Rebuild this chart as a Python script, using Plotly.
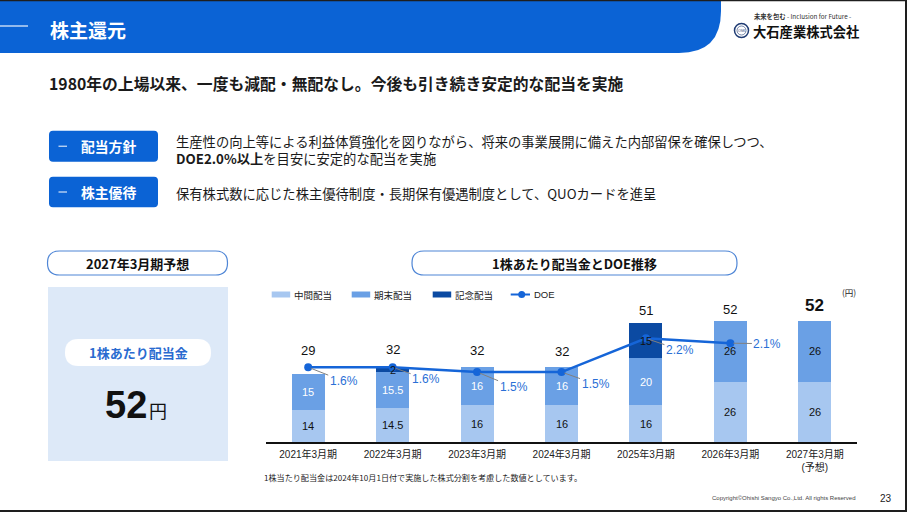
import plotly.graph_objects as go

W, H = 907, 512


def X(px):
    return px / W


def Y(py):
    return 1 - py / H


# ---------------- data ----------------
categories = ["2021年3月期", "2022年3月期", "2023年3月期", "2024年3月期",
              "2025年3月期", "2026年3月期", "2027年3月期<br>(予想)"]
interim = [14, 14.5, 16, 16, 16, 26, 26]          # 中間配当
year_end = [15, 15.5, 16, 16, 20, 26, 26]         # 期末配当
commemorative = [0, 2, 0, 0, 15, 0, 0]            # 記念配当
doe = [1.6, 1.6, 1.5, 1.5, 2.2, 2.1, None]        # DOE (%)
series_names = ["中間配当", "期末配当", "記念配当", "DOE"]
forecast_value = 52

# ---------------- style ----------------
C_LIGHT = "#a7c7f0"
C_MED = "#6aa0e5"
C_DARK = "#0b4aa2"
C_LINE = "#1565d8"
C_BLUE = "#0b63d5"
JP = "Noto Sans CJK JP"
NUM = "Liberation Sans, Noto Sans CJK JP"

totals = [a + b + c for a, b, c in zip(interim, year_end, commemorative)]

fig = go.Figure()
fig.add_trace(go.Bar(x=categories, y=interim, name=series_names[0], marker_color=C_LIGHT,
                     marker_line_width=0, width=0.39, showlegend=False, hoverinfo="skip"))
fig.add_trace(go.Bar(x=categories, y=year_end, name=series_names[1], marker_color=C_MED,
                     marker_line_width=0, width=0.39, showlegend=False, hoverinfo="skip"))
fig.add_trace(go.Bar(x=categories, y=commemorative, name=series_names[2], marker_color=C_DARK,
                     marker_line_width=0, width=0.39, showlegend=False, hoverinfo="skip"))
fig.add_trace(go.Scatter(x=categories, y=doe, name=series_names[3], yaxis="y2",
                         mode="lines+markers", line=dict(color=C_LINE, width=2.5),
                         marker=dict(size=8, color=C_LINE), showlegend=False,
                         hoverinfo="skip", cliponaxis=False))

annotations = []
shapes = []

# segment labels
ye_colors = ["white", "white", "white", "white", "white", "#111", "#111"]
for i, cat in enumerate(categories):
    annotations.append(dict(x=cat, y=interim[i] / 2, xref="x", yref="y", text=f"{interim[i]:g}",
                            showarrow=False, font=dict(family=NUM, size=11, color="#111")))
    annotations.append(dict(x=cat, y=interim[i] + year_end[i] / 2, xref="x", yref="y",
                            text=f"{year_end[i]:g}", showarrow=False,
                            font=dict(family=NUM, size=11, color=ye_colors[i])))
    if commemorative[i]:
        annotations.append(dict(x=cat, y=interim[i] + year_end[i] + commemorative[i] / 2,
                                xref="x", yref="y", text=f"{commemorative[i]:g}", showarrow=False,
                                font=dict(family=NUM, size=11, color="#111")))

# totals
tot_shift = [23.5, 18, 16.5, 16, 12.5, 11.5, 15.5]
for i, cat in enumerate(categories):
    last = i == len(categories) - 1
    annotations.append(dict(x=cat, y=totals[i], xref="x", yref="y", yanchor="middle",
                            yshift=tot_shift[i], showarrow=False,
                            text=(f"<b>{totals[i]:g}</b>" if last else f"{totals[i]:g}"),
                            font=dict(family=NUM, size=17 if last else 13, color="#111")))

# DOE labels
doe_off = [(35.5, 14), (33.5, 12), (36.5, 15), (34, 12), (34, 11.5), (37, 0.5)]
for i, cat in enumerate(categories):
    if doe[i] is None:
        continue
    ax, ay = doe_off[i]
    annotations.append(dict(x=cat, y=doe[i], xref="x", yref="y2", text=f"{doe[i]}%",
                            showarrow=True, arrowhead=0, arrowwidth=1, arrowcolor="#808080",
                            ax=ax, ay=ay, standoff=3,
                            font=dict(family=NUM, size=12, color="#2a6fd6")))


def rrect(x0, y0, x1, y1, r):
    def p(x, y):
        return f"{X(x):.5f},{Y(y):.5f}"
    return (f"M{p(x0 + r, y0)} L{p(x1 - r, y0)} Q{p(x1, y0)} {p(x1, y0 + r)} "
            f"L{p(x1, y1 - r)} Q{p(x1, y1)} {p(x1 - r, y1)} L{p(x0 + r, y1)} "
            f"Q{p(x0, y1)} {p(x0, y1 - r)} L{p(x0, y0 + r)} Q{p(x0, y0)} {p(x0 + r, y0)} Z")


def text(x, y, s, size, color="#1a1a1a", family=JP, xanchor="left", yanchor="middle"):
    annotations.append(dict(x=X(x), y=Y(y), xref="paper", yref="paper", text=s,
                            showarrow=False, xanchor=xanchor, yanchor=yanchor, align="left",
                            font=dict(family=family, size=size, color=color)))


# header bar
hb = (f"M{X(0):.5f},{Y(0):.5f} L{X(721):.5f},{Y(0):.5f} L{X(721):.5f},{Y(11):.5f} "
      f"Q{X(721):.5f},{Y(53):.5f} {X(679):.5f},{Y(53):.5f} L{X(0):.5f},{Y(53):.5f} Z")
shapes.append(dict(type="path", path=hb, xref="paper", yref="paper", fillcolor=C_BLUE,
                   line=dict(width=0), layer="below"))
shapes.append(dict(type="line", xref="paper", yref="paper", x0=X(0), x1=X(28), y0=Y(26), y1=Y(26),
                   line=dict(color="rgba(255,255,255,0.75)", width=1.5)))
text(48, 29, "<b>株主還元</b>", 19, "white")

# logo
shapes.append(dict(type="circle", xref="paper", yref="paper", x0=X(734.5), x1=X(748.5),
                   y0=Y(37.5), y1=Y(23.5), line=dict(color="#1f3b73", width=1.5)))
shapes.append(dict(type="circle", xref="paper", yref="paper", x0=X(737), x1=X(746),
                   y0=Y(35), y1=Y(26), line=dict(color="#1f3b73", width=0.6)))
text(741.5, 30.7, "OSK", 3.5, "#1f3b73", NUM, xanchor="center")
text(752, 16.7, "<b>未来を包む</b> - Inclusion for Future -", 6.3, "#333")
text(751, 31.5, "<b>大石産業株式会社</b>", 13.3, "#111")

# subtitle
text(47, 83, "<b>1980年の上場以来、一度も減配・無配なし。今後も引き続き安定的な配当を実施</b>", 15.8)

# policy boxes
for (yy0, yy1, label) in [(130.7, 161.7, "配当方針"), (176.7, 207.3, "株主優待")]:
    shapes.append(dict(type="path", path=rrect(49, yy0, 158, yy1, 4), xref="paper", yref="paper",
                       fillcolor=C_BLUE, line=dict(width=0)))
    cy = (yy0 + yy1) / 2
    shapes.append(dict(type="line", xref="paper", yref="paper", x0=X(58.5), x1=X(67),
                       y0=Y(cy), y1=Y(cy), line=dict(color="white", width=1)))
    text(108.5, cy, f"<b>{label}</b>", 13.8, "white", xanchor="center")

text(174, 150.2, "生産性の向上等による利益体質強化を図りながら、将来の事業展開に備えた内部留保を確保しつつ、"
     "<br><b>DOE2.0%以上</b>を目安に安定的な配当を実施", 13.3)
text(174, 193, "保有株式数に応じた株主優待制度・長期保有優遇制度として、QUOカードを進呈", 13.3)

# pills
for (x0, x1, label) in [(47.5, 227.5, "2027年3月期予想"), (412, 737, "1株あたり配当金とDOE推移")]:
    shapes.append(dict(type="path", path=rrect(x0, 251, x1, 275, 12), xref="paper", yref="paper",
                       fillcolor="white", line=dict(color="#4f86d6", width=1.2)))
    text((x0 + x1) / 2, 263, f"<b>{label}</b>", 13, "#111", xanchor="center")

# forecast box
shapes.append(dict(type="rect", xref="paper", yref="paper", x0=X(48), x1=X(228), y0=Y(461), y1=Y(287),
                   fillcolor="#dde9f8", line=dict(width=0), layer="below"))
shapes.append(dict(type="path", path=rrect(65, 339, 211, 366, 13.5), xref="paper", yref="paper",
                   fillcolor="white", line=dict(width=0)))
text(138, 352.5, "<b>1株あたり配当金</b>", 13, "#2a6bd0", xanchor="center")
text(149, 405, f"<b>{forecast_value}</b>", 38, "#111", NUM, xanchor="right")
text(147, 410, "円", 18, "#111", xanchor="left")

# chart legend
leg_x = [271.7, 351.7, 432.7]
leg_c = [C_LIGHT, C_MED, C_DARK]
for lx, lc, nm in zip(leg_x, leg_c, series_names[:3]):
    shapes.append(dict(type="rect", xref="paper", yref="paper", x0=X(lx), x1=X(lx + 18.5),
                       y0=Y(297.5), y1=Y(291.5), fillcolor=lc, line=dict(width=0)))
    text(lx + 20, 294.5, nm, 9.5, "#222")
shapes.append(dict(type="line", xref="paper", yref="paper", x0=X(510.7), x1=X(530), y0=Y(294.5),
                   y1=Y(294.5), line=dict(color=C_LINE, width=2)))
shapes.append(dict(type="circle", xref="paper", yref="paper", x0=X(518.2), x1=X(525.2), y0=Y(298),
                   y1=Y(291), fillcolor=C_LINE, line=dict(width=0)))
text(531.5, 294.5, series_names[3], 9.5, "#222", NUM)
text(849, 291.7, "(円)", 8.5, "#222", xanchor="center")

# footnotes
text(262, 477.5, "1株当たり配当金は2024年10月1日付で実施した株式分割を考慮した数値としています。", 8.1, "#222")
text(858, 498, "Copyright©Ohishi Sangyo Co.,Ltd. All rights Reserved", 6, "#444", NUM, xanchor="right")
text(886, 498, "23", 10, "#222", NUM, xanchor="center")

# frame
for (x0, y0, x1, y1) in [(0, 0, 907, 1.2), (905, 0, 907, 512), (0, 510, 907, 512)]:
    shapes.append(dict(type="rect", xref="paper", yref="paper", x0=X(x0), x1=X(x1), y0=Y(y1), y1=Y(y0),
                       fillcolor="#1e1e1e", line=dict(width=0)))

fig.update_layout(
    width=W, height=H, margin=dict(l=0, r=0, t=0, b=0, pad=0),
    paper_bgcolor="white", plot_bgcolor="rgba(0,0,0,0)",
    barmode="stack", bargap=0.5, showlegend=False,
    xaxis=dict(domain=[X(266), X(857)], type="category", range=[-0.5, 6.5],
               showline=True, linecolor="#111", linewidth=1.5, ticks="", showgrid=False,
               zeroline=False, tickfont=dict(family=NUM, size=10, color="#222"),
               ticklabelstandoff=2, fixedrange=True),
    yaxis=dict(domain=[Y(442.3), Y(302)], range=[0, 60], visible=False, fixedrange=True),
    yaxis2=dict(overlaying="y", range=[0.04, 2.956], visible=False, fixedrange=True),
    annotations=annotations, shapes=shapes,
)

fig.write_html("out.html", config={"displayModeBar": False},
               post_script="document.body.style.margin='0';document.body.style.overflow='hidden';")
